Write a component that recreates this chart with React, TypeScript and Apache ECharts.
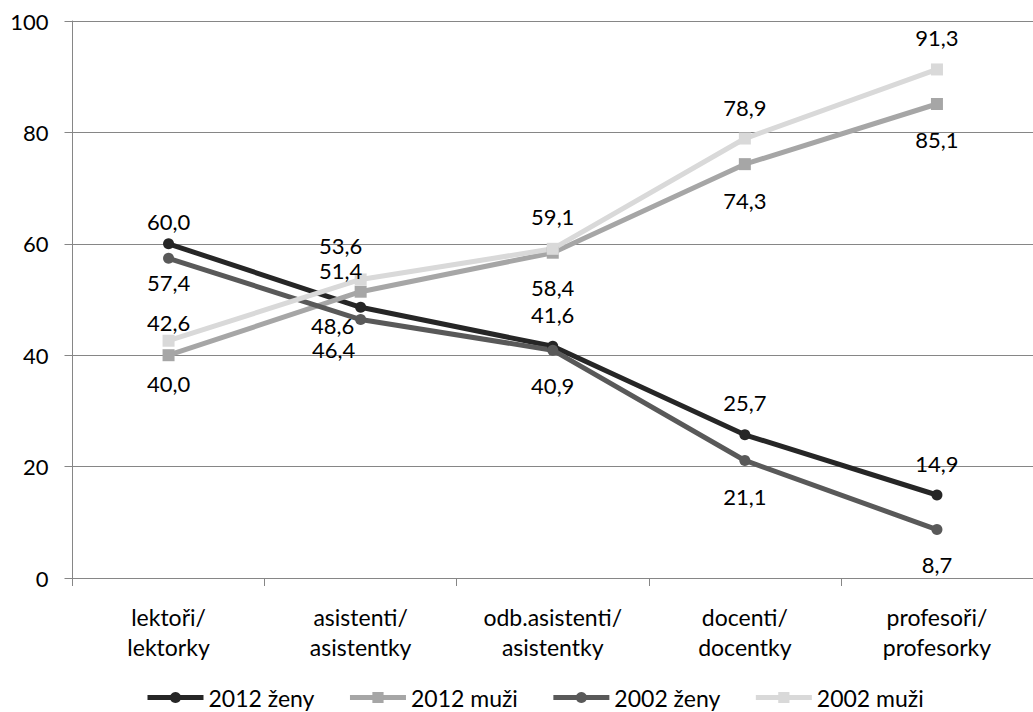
import React, { useEffect, useRef } from "react";
import * as echarts from "echarts";

// Categories of academic staff
const categories = [
  "lektoři/\nlektorky",
  "asistenti/\nasistentky",
  "odb.asistenti/\nasistentky",
  "docenti/\ndocentky",
  "profesoři/\nprofesorky",
];

// Shares (%) per category
const zeny2012 = [60.0, 48.6, 41.6, 25.7, 14.9];
const muzi2012 = [40.0, 51.4, 58.4, 74.3, 85.1];
const zeny2002 = [57.4, 46.4, 40.9, 21.1, 8.7];
const muzi2002 = [42.6, 53.6, 59.1, 78.9, 91.3];

// Value-axis ticks
const yMin = 0;
const yMax = 100;
const yStep = 20;

// Label placement (offset of the label centre from its point, px)
const offsZeny2012 = [[0, -22], [-28, 18], [0, -32], [0, -32], [0, -32]];
const offsMuzi2012 = [[0, 28], [-20, -21], [0, 35], [0, 36], [0, 36]];
const offsZeny2002 = [[0, 24], [-27, 30], [0, 35], [0, 36], [0, 35]];
const offsMuzi2002 = [[0, -18], [-20, -34], [0, -32], [0, -31], [0, -32]];

const FONT = "Lato";
const FS = 22;
const FS_TEXT = 23;

function fmt(v: number) {
  return v.toFixed(1).replace(".", ",");
}

function makeSeries(
  name: string,
  values: number[],
  offsets: number[][],
  color: string,
  symbol: string
) {
  return {
    name,
    type: "line",
    symbol,
    symbolSize: symbol === "circle" ? 11 : 12,
    lineStyle: { color, width: 5 },
    itemStyle: { color },
    data: values.map((v, i) => ({
      value: v,
      label: {
        show: true,
        position: "inside",
        offset: offsets[i],
        formatter: () => fmt(v),
        color: "#000",
        fontFamily: FONT,
        fontSize: FS,
      },
    })),
  };
}

export default function App() {
  const ref = useRef<HTMLDivElement>(null);

  useEffect(() => {
    if (!ref.current) return;
    const chart = echarts.init(ref.current, null, { renderer: "svg" });
    chart.setOption({
      animation: false,
      backgroundColor: "#fff",
      textStyle: { fontFamily: FONT, color: "#000" },
      grid: { left: 72.5, top: 21, width: 975, height: 557 },
      legend: {
        left: 140,
        top: 681,
        itemWidth: 56,
        itemHeight: 14,
        itemGap: 33,
        lineStyle: { width: 5 },
        textStyle: { fontFamily: FONT, fontSize: FS_TEXT, color: "#000" },
        data: ["2012 ženy", "2012 muži", "2002 ženy", "2002 muži"],
      },
      xAxis: {
        type: "category",
        data: categories,
        boundaryGap: true,
        axisLine: { lineStyle: { color: "#868686", width: 1 } },
        axisTick: { show: true, length: 8, lineStyle: { color: "#868686" } },
        axisLabel: {
          color: "#000",
          fontFamily: FONT,
          fontSize: FS_TEXT,
          lineHeight: 30,
          margin: 24,
          interval: 0,
        },
        splitLine: { show: false },
      },
      yAxis: {
        type: "value",
        min: yMin,
        max: yMax,
        interval: yStep,
        axisLine: { show: true, lineStyle: { color: "#868686", width: 1 } },
        axisTick: { show: true, length: 8, lineStyle: { color: "#868686" } },
        axisLabel: {
          color: "#000",
          fontFamily: FONT,
          fontSize: FS,
          margin: 24,
        },
        splitLine: { show: true, lineStyle: { color: "#868686", width: 1 } },
      },
      series: [
        makeSeries("2012 ženy", zeny2012, offsZeny2012, "#262626", "circle"),
        makeSeries("2012 muži", muzi2012, offsMuzi2012, "#a6a6a6", "rect"),
        makeSeries("2002 ženy", zeny2002, offsZeny2002, "#595959", "circle"),
        makeSeries("2002 muži", muzi2002, offsMuzi2002, "#d9d9d9", "rect"),
      ],
    });
    return () => chart.dispose();
  }, []);

  return (
    <div
      ref={ref}
      style={{ position: "fixed", left: 0, top: 0, width: 1033, height: 712, overflow: "hidden" }}
    />
  );
}
